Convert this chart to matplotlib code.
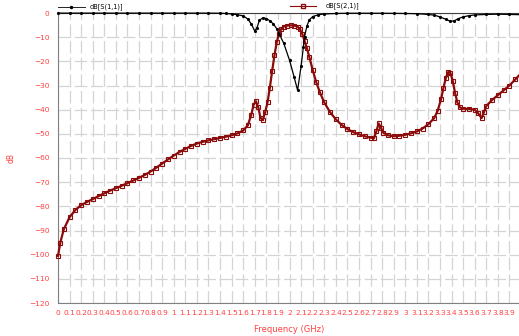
#!/usr/bin/env python3
"""
S-parameter plot: dB[S(1,1)] and dB[S(2,1)] vs frequency.
"""

import matplotlib
matplotlib.use('Agg')
import matplotlib.pyplot as plt
from matplotlib.lines import Line2D

# S(2,1) (GHz, dB)
s21_freq = [0.0, 0.02, 0.05, 0.1, 0.15, 0.2, 0.25, 0.3, 0.35, 0.4, 0.45, 0.5,
            0.55, 0.6, 0.65, 0.7, 0.75, 0.8, 0.85, 0.9, 0.95, 1.0, 1.05, 1.1,
            1.15, 1.2, 1.25, 1.3, 1.35, 1.4, 1.45, 1.5, 1.55, 1.6, 1.64, 1.67,
            1.69, 1.71, 1.73, 1.75, 1.77, 1.79, 1.81, 1.83, 1.85, 1.87, 1.89,
            1.91, 1.93, 1.95, 1.98, 2.01, 2.04, 2.07, 2.09, 2.11, 2.13, 2.15,
            2.17, 2.2, 2.23, 2.26, 2.3, 2.35, 2.4, 2.45, 2.5, 2.55, 2.6, 2.65,
            2.7, 2.73, 2.75, 2.77, 2.79, 2.81, 2.85, 2.9, 2.95, 3.0, 3.05, 3.1,
            3.15, 3.2, 3.25, 3.28, 3.31, 3.33, 3.35, 3.37, 3.39, 3.41, 3.43,
            3.45, 3.47, 3.5, 3.55, 3.6, 3.63, 3.66, 3.68, 3.7, 3.75, 3.8, 3.85,
            3.9, 3.95, 4.0]
s21_db = [-100.5, -95, -89.5, -84.5, -81.5, -79.5, -78.2, -77, -75.8, -74.6,
          -73.5, -72.5, -71.5, -70.4, -69.3, -68.2, -67, -65.6, -64, -62.3,
          -60.6, -59, -57.5, -56.2, -55, -54, -53.3, -52.7, -52.2, -51.7,
          -51.2, -50.6, -49.8, -48.6, -46.5, -42, -38, -36.5, -39, -43.5,
          -44.2, -41, -37, -31, -24, -17.5, -12, -8.5, -6.5, -5.6, -5.2, -5.1,
          -5.2, -5.6, -6.8, -8.6, -11.5, -14.5, -18, -23.5, -28.5, -32.5, -37,
          -41, -44, -46.3, -48, -49.3, -50.2, -51, -51.6, -51.8, -49, -45.7,
          -47.5, -49.5, -50.6, -51, -50.8, -50.4, -49.8, -49, -47.8, -46,
          -43.5, -40.5, -35.5, -31, -27, -24.5, -24.8, -28, -33, -37, -39,
          -39.6, -39.7, -40, -41.5, -43.5, -41, -38.5, -36, -34, -32, -30,
          -27.5, -25]

# S(1,1)
s11_freq = [0.0, 0.1, 0.2, 0.3, 0.4, 0.5, 0.6, 0.7, 0.8, 0.9, 1.0, 1.1, 1.2,
            1.3, 1.4, 1.45, 1.5, 1.55, 1.6, 1.64, 1.67, 1.7, 1.72, 1.74, 1.77,
            1.8, 1.83, 1.86, 1.89, 1.91, 1.95, 2.0, 2.04, 2.07, 2.1, 2.12,
            2.13, 2.15, 2.17, 2.2, 2.25, 2.3, 2.4, 2.5, 2.6, 2.7, 2.8, 2.9,
            3.0, 3.1, 3.2, 3.25, 3.3, 3.35, 3.39, 3.42, 3.46, 3.5, 3.55, 3.6,
            3.7, 3.8, 3.9, 4.0]
s11_db = [-0.05, -0.05, -0.05, -0.05, -0.05, -0.05, -0.05, -0.05, -0.05,
          -0.05, -0.05, -0.05, -0.05, -0.05, -0.1, -0.2, -0.4, -0.7, -1.2,
          -2.5, -4.5, -7.5, -6, -3, -2, -2.3, -3.2, -4.5, -6.5, -8.5, -12.5,
          -19.5, -26.5, -32, -22, -14, -9.8, -5.5, -2.9, -1.5, -0.7, -0.4,
          -0.2, -0.1, -0.1, -0.1, -0.1, -0.15, -0.2, -0.3, -0.6, -0.9, -1.6,
          -2.6, -3.4, -3.3, -2.3, -1.6, -1.1, -0.8, -0.6, -0.5, -0.6, -0.7]

x_ticks = [i / 10 for i in range(0, 40)]
x_labels = ['0', '0.1', '0.2', '0.3', '0.4', '0.5', '0.6', '0.7', '0.8', '0.9',
            '1', '1.1', '1.2', '1.3', '1.4', '1.5', '1.6', '1.7', '1.8', '1.9',
            '2', '2.1', '2.2', '2.3', '2.4', '2.5', '2.6', '2.7', '2.8', '2.9',
            '3', '3.1', '3.2', '3.3', '3.4', '3.5', '3.6', '3.7', '3.8', '3.9']
y_ticks = list(range(0, -130, -10))

red = '#ff4040'
s21_color = '#8b0a0a'

plt.rcParams['lines.scale_dashes'] = False
fig = plt.figure(figsize=(5.19, 3.36), dpi=100)
ax = fig.add_axes([58 / 519, 1 - 303 / 336, 463 / 519, 290 / 336])

ax.set_xlim(0, 4.0)
ax.set_ylim(-120, 0)
ax.set_xticks(x_ticks)
ax.set_xticklabels(x_labels)
ax.set_yticks(y_ticks)
ax.tick_params(axis='both', length=0, labelcolor=red, labelsize=5.3)
ax.tick_params(axis='y', pad=6)
ax.tick_params(axis='x', pad=5)

ax.grid(True, axis='x', color='#d4d4d4', linewidth=0.9, linestyle=(0, (9, 3)))
ax.grid(True, axis='y', color='#d4d4d4', linewidth=0.9, linestyle=(0, (9, 2.6)))
ax.set_axisbelow(True)

ax.spines['right'].set_visible(False)
ax.spines['left'].set_color('#808080')
ax.spines['bottom'].set_color('#808080')
ax.spines['top'].set_color('#404040')

ax.plot(s21_freq, s21_db, color=s21_color, linewidth=1.6, marker='s',
        markersize=2.6, markerfacecolor='none', markeredgecolor=s21_color,
        markeredgewidth=0.8, zorder=3, clip_on=False)
ax.plot(s11_freq, s11_db, color='black', linewidth=0.9, marker='.',
        markersize=2.5, zorder=4, clip_on=False)

ax.set_xlabel('Frequency (GHz)', color=red, fontsize=6)
ax.xaxis.set_label_coords(0.5, -0.076)
ax.set_ylabel('dB', color=red, fontsize=5.5)
ax.yaxis.set_label_coords(-42 / 463, 0.5)

# legend entries above the plot
fig.add_artist(Line2D([58 / 519, 71 / 519, 85 / 519], [1 - 7 / 336] * 3,
                      color='black', linewidth=0.6, marker='.', markersize=3,
                      markevery=[1], transform=fig.transFigure))
fig.text(90 / 519, 1 - 7 / 336, 'dB[S(1,1)]', fontsize=4.8, va='center')
fig.add_artist(Line2D([290 / 519, 303 / 519, 316 / 519], [1 - 6 / 336] * 3,
                      color=s21_color, linewidth=0.8, marker='s', markersize=2.5,
                      markerfacecolor='none', markevery=[1],
                      transform=fig.transFigure))
fig.text(326 / 519, 1 - 6 / 336, 'dB[S(2,1)]', fontsize=4.8, va='center')

fig.savefig('out.png', dpi=100)
